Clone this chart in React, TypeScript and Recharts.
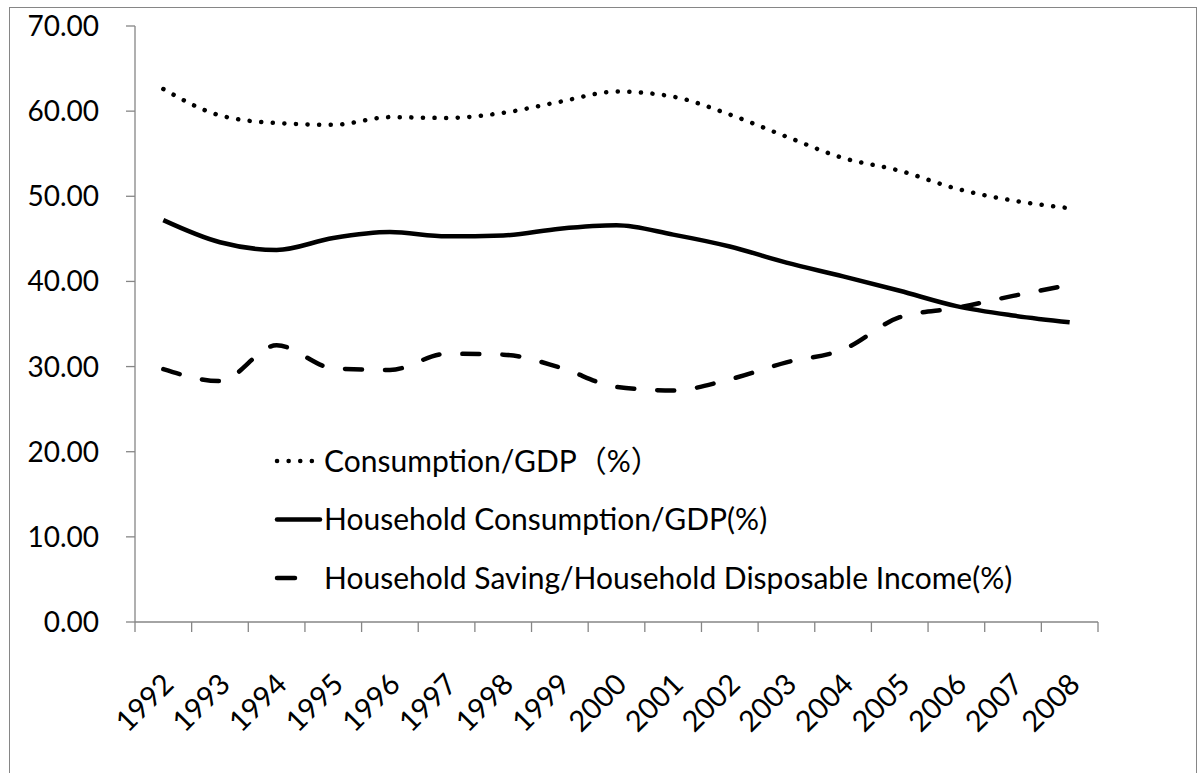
import React from 'react';
import { LineChart, Line, XAxis, YAxis, Legend } from 'recharts';

const years = ['1992', '1993', '1994', '1995', '1996', '1997', '1998', '1999', '2000', '2001', '2002', '2003', '2004', '2005', '2006', '2007', '2008'];
const consumption = [62.6, 59.5, 58.6, 58.4, 59.3, 59.2, 59.8, 61.1, 62.3, 61.7, 59.6, 57.0, 54.5, 53.0, 50.9, 49.5, 48.6];
const household = [47.2, 44.6, 43.7, 45.1, 45.8, 45.3, 45.4, 46.2, 46.6, 45.5, 44.1, 42.2, 40.6, 38.9, 37.1, 36.0, 35.2];
const saving = [29.7, 28.3, 32.5, 29.8, 29.6, 31.5, 31.4, 29.9, 27.6, 27.2, 28.5, 30.5, 32.0, 35.8, 36.9, 38.3, 39.6];
const yTicks = [0, 10, 20, 30, 40, 50, 60, 70];

const seriesNames = [
  'Consumption/GDP\uFF08%\uFF09',
  'Household Consumption/GDP(%)',
  'Household Saving/Household Disposable Income(%)',
];

const data = years.map((y, i) => ({
  year: y,
  consumption: consumption[i],
  household: household[i],
  saving: saving[i],
}));

const FONT = 'Lato, "Noto Sans CJK SC", sans-serif';
const AXIS = '#868686';

const XTick = (props: any) => {
  const { x, y, payload, index, visibleTicksCount } = props;
  const off = payload && payload.offset ? payload.offset : 0;
  const isLast = index === (visibleTicksCount || years.length) - 1;
  const ay = y;
  const tx = x + 12;
  const ty = ay + 54;
  return (
    <g>
      <line x1={x - off} y1={ay - 10} x2={x - off} y2={ay} stroke={AXIS} strokeWidth={1.3} />
      {isLast && <line x1={x + off} y1={ay - 10} x2={x + off} y2={ay} stroke={AXIS} strokeWidth={1.3} />}
      <text
        x={tx}
        y={ty}
        transform={`rotate(-45 ${tx} ${ty})`}
        textAnchor="end"
        fontFamily={FONT}
        fontSize={29}
        fill="#000"
      >
        {payload.value}
      </text>
    </g>
  );
};

const LegendContent = () => {
  const rows = [
    { dash: '0.1 11.5', x1: 277, x2: 320 },
    { dash: undefined, x1: 277, x2: 320 },
    { dash: '18 40', x1: 277, x2: 320 },
  ];
  return (
    <svg width={800} height={180} style={{ overflow: 'visible' }}>
      {rows.map((r, i) => {
        const cy = 20 + i * 58.5;
        return (
          <g key={i}>
            <line
              x1={r.x1 - 272}
              y1={cy}
              x2={r.x2 - 272}
              y2={cy}
              stroke="#000"
              strokeWidth={4.5}
              strokeLinecap="round"
              strokeDasharray={r.dash}
            />
            <text x={324 - 272} y={cy + 10.5} fontFamily={FONT} fontSize={30} fill="#000">
              {seriesNames[i]}
            </text>
          </g>
        );
      })}
    </svg>
  );
};

export default function App() {
  return (
    <div style={{ position: 'absolute', left: 0, top: 0, width: 1197, height: 773, background: '#fff', overflow: 'hidden' }}>
      <div style={{ position: 'absolute', left: 9, top: 7, width: 1186, height: 800, border: `1px solid ${AXIS}` }} />
      <div style={{ position: 'absolute', left: 0, top: 0 }}>
        <LineChart width={1197} height={773} data={data} margin={{ top: 26, right: 99, bottom: 0, left: 0 }}>
          <XAxis
            dataKey="year"
            scale="band"
            interval={0}
            tickSize={10}
            tickMargin={0}
            tickLine={{ stroke: 'none' }}
            axisLine={{ stroke: AXIS, strokeWidth: 1.3 }}
            tick={<XTick />}
            height={151}
          />
          <YAxis
            domain={[0, 70]}
            ticks={yTicks}
            interval={0}
            width={135}
            tickSize={9}
            tickMargin={27}
            tickFormatter={(v: number) => v.toFixed(2)}
            axisLine={{ stroke: AXIS, strokeWidth: 1.3 }}
            tickLine={{ stroke: AXIS, strokeWidth: 1.3 }}
            tick={{ fill: '#000', fontFamily: FONT, fontSize: 28 }}
          />
          <Legend
            layout="vertical"
            align="center"
            verticalAlign="middle"
            content={<LegendContent />}
            wrapperStyle={{ position: 'absolute', left: 272, top: 441, width: 800, height: 180 }}
          />
          <Line
            dataKey="consumption"
            name={seriesNames[0]}
            type="monotone"
            stroke="#000"
            strokeWidth={4.5}
            strokeDasharray="0.1 11.5"
            strokeLinecap="round"
            dot={false}
            activeDot={false}
            isAnimationActive={false}
          />
          <Line
            dataKey="household"
            name={seriesNames[1]}
            type="monotone"
            stroke="#000"
            strokeWidth={4.5}
            dot={false}
            activeDot={false}
            isAnimationActive={false}
          />
          <Line
            dataKey="saving"
            name={seriesNames[2]}
            type="monotone"
            stroke="#000"
            strokeWidth={4.5}
            strokeDasharray="17 23"
            strokeLinecap="round"
            dot={false}
            activeDot={false}
            isAnimationActive={false}
          />
        </LineChart>
      </div>
    </div>
  );
}
